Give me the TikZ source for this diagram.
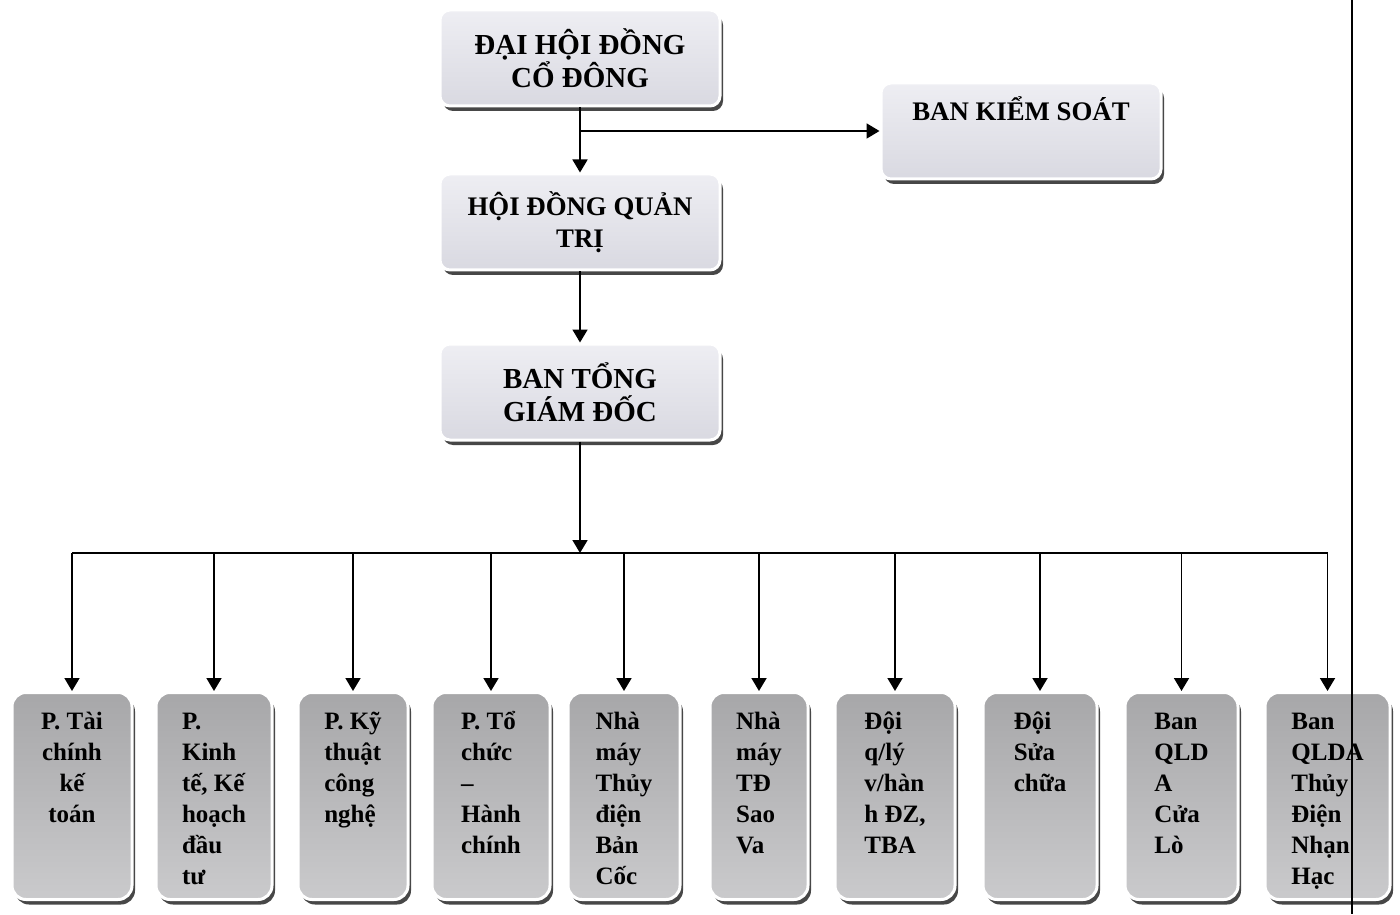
\documentclass[tikz,border=0pt]{standalone}
\usepackage{fontspec}
\setmainfont{Liberation Serif}
\usetikzlibrary{arrows.meta,shadows}
\definecolor{boardtop}{HTML}{EEEEF3}
\definecolor{boardbot}{HTML}{D9D9E1}
\definecolor{unittop}{HTML}{A7A7A9}
\definecolor{unitbot}{HTML}{CACACC}
\tikzset{
  board/.style={rounded corners=5pt, draw=white, line width=1.5pt,
    top color=boardtop, bottom color=boardbot,
    drop shadow={shadow xshift=1.5pt, shadow yshift=-2.5pt, fill=black!80, opacity=0.9},
    minimum width=140pt, minimum height=48pt, inner sep=2pt},
  unit/.style={rounded corners=7pt, draw=white, line width=1.5pt,
    top color=unittop, bottom color=unitbot,
    drop shadow={shadow xshift=1.5pt, shadow yshift=-2.5pt, fill=black!80, opacity=0.9},
    anchor=north, minimum height=103.5pt, inner xsep=2pt, inner ysep=7.5pt,
    font=\bfseries\fontsize{12.5}{15.5}\selectfont},
  link/.style={line width=0.9pt, -{Triangle[width=7.5pt,length=6.5pt]}},
  wire/.style={line width=0.9pt}
}
\newcommand{\unitcol}[2][l]{\vbox to 88pt{\hbox{\begin{tabular}{@{}#1@{}}#2\end{tabular}}\vfil}}

\begin{document}
\begin{tikzpicture}[x=0.5pt,y=-0.5pt]
  %%%%% START %%%%%
  \useasboundingbox (0,0) rectangle (1400,914);

  \node[board, align=center, font=\bfseries\fontsize{14.5}{16.5}\selectfont] (dhd) at (580,58) {ĐẠI HỘI ĐỒNG\\CỔ ĐÔNG};
  \node[board, font=\bfseries\fontsize{13.4}{15}\selectfont, text height=10pt, text depth=20pt] (bks) at (1021,131) {BAN KIỂM SOÁT};
  \node[board, align=center, font=\bfseries\fontsize{13.4}{16}\selectfont] (hdqt) at (580,222) {HỘI ĐỒNG QUẢN\\TRỊ};
  \node[board, align=center, font=\bfseries\fontsize{14.5}{16.5}\selectfont] (tgd) at (580,392) {BAN TỔNG\\GIÁM ĐỐC};

  \node[unit, minimum width=60pt] (u1) at (72,691) {\unitcol[c]{P. Tài\\chính\\kế\\toán}};
  \node[unit, minimum width=58pt] (u2) at (214,691) {\unitcol{P.\\Kinh\\tế, Kế\\hoạch\\đầu\\tư}};
  \node[unit, minimum width=55pt] (u3) at (353,691) {\unitcol{P. Kỹ\\thuật\\công\\nghệ}};
  \node[unit, minimum width=59pt] (u4) at (491,691) {\unitcol{P. Tổ\\chức\\–\\Hành\\chính}};
  \node[unit, minimum width=56pt] (u5) at (624,691) {\unitcol{Nhà\\máy\\Thủy\\điện\\Bản\\Cốc}};
  \node[unit, minimum width=49pt] (u6) at (759,691) {\unitcol{Nhà\\máy\\TĐ\\Sao\\Va}};
  \node[unit, minimum width=60pt] (u7) at (895,691) {\unitcol{Đội\\q/lý\\v/hàn\\h ĐZ,\\TBA}};
  \node[unit, minimum width=57pt] (u8) at (1040,691) {\unitcol{Đội\\Sửa\\chữa}};
  \node[unit, minimum width=56.5pt] (u9) at (1181.5,691) {\unitcol{Ban\\QLD\\A\\Cửa\\Lò}};
  \node[unit, minimum width=62.5pt] (u10) at (1327.5,691) {\unitcol{Ban\\QLDA\\Thủy\\Điện\\Nhạn\\Hạc}};

  \coordinate (fork) at (580,131);
  \coordinate (bus) at (580,553);

  \draw[link] (dhd) -- (hdqt);
  \draw[link] (fork) -- (bks);
  \draw[link] (hdqt) -- (tgd);
  \draw[link] (tgd) -- (bus);

  \draw[wire] (u1.north |- bus) -- (u10.north |- bus);
  \draw[link] (u1.north |- bus) -- (u1.north);
  \draw[link] (u2.north |- bus) -- (u2.north);
  \draw[link] (u3.north |- bus) -- (u3.north);
  \draw[link] (u4.north |- bus) -- (u4.north);
  \draw[link] (u5.north |- bus) -- (u5.north);
  \draw[link] (u6.north |- bus) -- (u6.north);
  \draw[link] (u7.north |- bus) -- (u7.north);
  \draw[link] (u8.north |- bus) -- (u8.north);
  \draw[link] (u9.north |- bus) -- (u9.north);
  \draw[link] (u10.north |- bus) -- (u10.north);

  \draw[line width=1pt] (1352,0) -- (1352,914);
  %%%%% END %%%%%
\end{tikzpicture}
\end{document}
